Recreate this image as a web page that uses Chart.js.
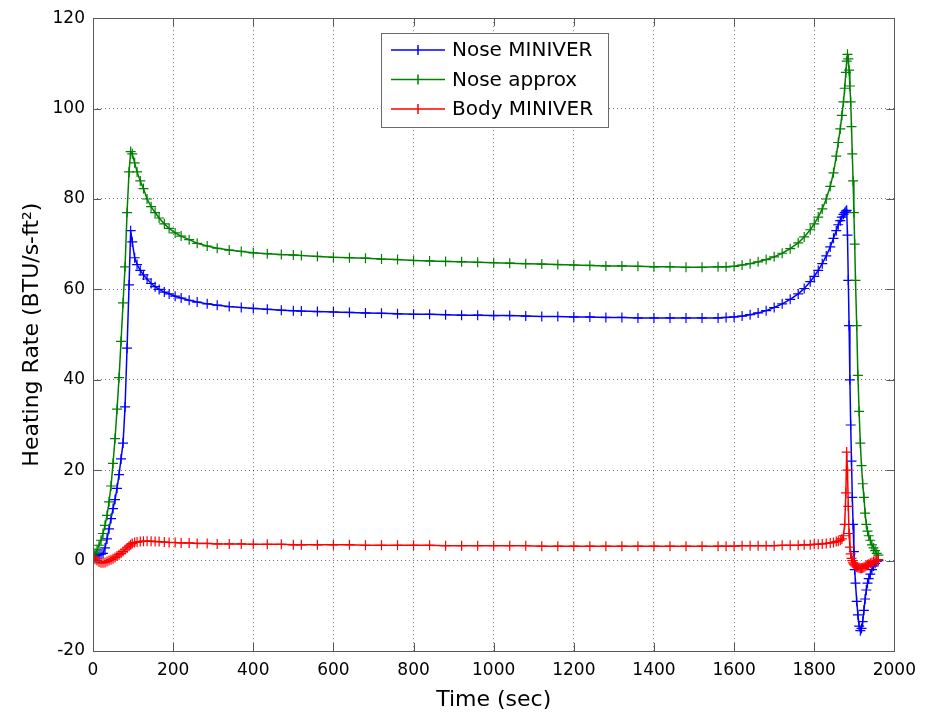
<!DOCTYPE html>
<html lang="en">
<head>
<meta charset="UTF-8">
<title>Heating Rate vs Time</title>
<script src="https://cdn.jsdelivr.net/npm/chart.js"></script>
<style>
  html, body { margin: 0; padding: 0; background: #fff; }
  canvas { display: block; }
</style>
</head>
<body>
<canvas id="chartCanvas" width="925" height="719"></canvas>
<script>
// time samples (sec), shared by all three series
const timeSec = [
  0, 5, 10, 15, 20, 25, 30, 35, 40, 45, 50, 55, 60, 65, 70, 75, 80, 85, 90, 94,
  98, 104, 110, 118, 126, 135, 145, 155, 165, 178, 190, 205, 220, 240, 260, 285, 310, 340, 370, 400,
  435, 470, 500, 520, 560, 600, 640, 680, 720, 760, 800, 840, 880, 920, 960, 1000, 1040, 1080, 1120, 1160,
  1200, 1240, 1280, 1320, 1360, 1400, 1440, 1480, 1520, 1560, 1580, 1600, 1620, 1640, 1660, 1680, 1700, 1720, 1740, 1760,
  1775, 1790, 1800, 1810, 1820, 1830, 1840, 1848, 1855, 1860, 1865, 1869, 1873, 1876, 1879, 1881, 1883, 1885, 1887, 1889,
  1891, 1893, 1895, 1897, 1899, 1901, 1903, 1906, 1909, 1912, 1915, 1918, 1921, 1924, 1927, 1930, 1933, 1936, 1940, 1944,
  1948, 1952, 1956, 1960
];

const noseMiniver = [
  1.0, 1.0, 1.2, 1.3, 1.4, 1.6, 2.8, 4.8, 7.0, 9.3, 11.5, 13.5, 16.0, 19.0, 22.5, 26.0, 34.0, 47.0, 61.0, 73.0,
  70.5, 67.0, 65.5, 64.2, 63.2, 62.3, 61.3, 60.6, 60.0, 59.4, 59.0, 58.5, 58.1, 57.6, 57.2, 56.8, 56.5, 56.2, 56.0, 55.8,
  55.6, 55.4, 55.3, 55.2, 55.1, 55.0, 54.9, 54.8, 54.7, 54.6, 54.5, 54.5, 54.4, 54.3, 54.3, 54.2, 54.2, 54.1, 54.0, 54.0,
  53.9, 53.9, 53.8, 53.8, 53.7, 53.7, 53.7, 53.7, 53.7, 53.7, 53.8, 53.9, 54.1, 54.4, 54.8, 55.3, 56.0, 56.8, 57.8, 59.0,
  60.2, 61.7, 62.9, 64.2, 65.7, 67.4, 69.4, 71.3, 73.0, 74.3, 75.2, 76.0, 76.6, 77.0, 77.3, 77.5, 72.0, 62.0, 52.0, 40.0,
  30.0, 22.0, 14.0, 8.0, 2.0, -2.0, -5.0, -9.0, -12.0, -14.5, -15.5, -15.0, -13.5, -11.0, -8.5, -6.5, -5.0, -4.0, -3.0, -2.0,
  -1.2, -0.6, -0.2, 0.0
];

const noseApprox = [
  1.0, 1.6, 2.4, 3.4, 4.5, 6.0, 7.8, 10.0, 13.0, 16.5, 21.5, 27.0, 33.5, 40.5, 48.5, 57.0, 65.0, 77.0, 86.0, 90.5,
  90.0, 88.0, 86.0, 84.0, 82.3, 80.0, 78.3, 77.0, 75.8, 74.5, 73.5, 72.5, 71.8, 71.0, 70.2, 69.6, 69.1, 68.7, 68.4, 68.1,
  67.9, 67.7, 67.6, 67.5, 67.3, 67.1, 67.0, 66.9, 66.7, 66.6, 66.4, 66.3, 66.2, 66.1, 66.0, 65.9, 65.8, 65.7, 65.6, 65.5,
  65.4, 65.3, 65.2, 65.2, 65.1, 65.0, 65.0, 64.9, 64.9, 65.0, 65.0, 65.1, 65.4, 65.7, 66.1, 66.6, 67.2, 68.0, 69.0, 70.3,
  71.6, 73.2, 74.5, 76.0, 77.8, 80.0, 82.8, 85.8, 89.5, 92.5, 95.5, 98.5, 101.5, 104.5, 108.0, 110.5, 112.0, 111.0, 108.5, 105.0,
  101.5, 96.0, 90.0, 84.0, 77.0, 70.0, 62.0, 52.0, 41.0, 33.0, 26.0, 21.0, 17.0, 14.0, 10.5, 8.0, 6.5, 5.5, 4.5, 3.5,
  2.8, 2.2, 1.6, 1.2
];

const bodyMiniver = [
  0.5, 0.3, 0.0, -0.3, -0.5, -0.5, -0.4, -0.2, 0.0, 0.2, 0.4, 0.7, 1.0, 1.3, 1.6, 2.0, 2.4, 2.8, 3.2, 3.5,
  3.8, 4.0, 4.1, 4.2, 4.3, 4.3, 4.3, 4.2, 4.2, 4.1, 4.0, 4.0, 3.9, 3.9, 3.8, 3.8, 3.7, 3.7, 3.7, 3.6,
  3.6, 3.6, 3.5, 3.5, 3.5, 3.5, 3.5, 3.4, 3.4, 3.4, 3.4, 3.4, 3.3, 3.3, 3.3, 3.3, 3.3, 3.3, 3.2, 3.2,
  3.2, 3.2, 3.2, 3.2, 3.2, 3.2, 3.2, 3.2, 3.2, 3.2, 3.2, 3.2, 3.3, 3.3, 3.3, 3.3, 3.3, 3.4, 3.4, 3.4,
  3.5, 3.5, 3.6, 3.6, 3.7, 3.8, 3.9, 4.0, 4.2, 4.3, 4.5, 4.8, 5.5, 8.0, 15.0, 24.0, 20.0, 12.0, 6.0, 3.0,
  1.5, 0.5, 0.0, -0.5, -0.8, -1.0, -1.2, -1.4, -1.5, -1.6, -1.7, -1.7, -1.6, -1.5, -1.3, -1.1, -0.9, -0.8, -0.6, -0.4,
  -0.2, -0.1, 0.0, 0.2
];

const seriesLabels = ["Nose MINIVER", "Nose approx", "Body MINIVER"];
const seriesColors = ["#0000ff", "#008000", "#ff0000"];
const seriesValues = [noseMiniver, noseApprox, bodyMiniver];

const FONT = "'DejaVu Sans', 'Liberation Sans', Arial, sans-serif";

// box round the plot with inward tick marks, plus the legend inside the plot
const matlabFrame = {
  id: "matlabFrame",
  afterDatasetsDraw(chart) {
    const { ctx, chartArea: a, scales } = chart;
    const x = scales.x, y = scales.y;
    ctx.save();
    ctx.strokeStyle = "#5a5a5a";
    ctx.lineWidth = 1;
    ctx.strokeRect(Math.round(a.left) + 0.5, Math.round(a.top) + 0.5,
      Math.round(a.right - a.left), Math.round(a.bottom - a.top));
    ctx.beginPath();
    x.ticks.forEach(t => {
      const px = Math.round(x.getPixelForValue(t.value)) + 0.5;
      ctx.moveTo(px, a.bottom); ctx.lineTo(px, a.bottom - 8);
      ctx.moveTo(px, a.top); ctx.lineTo(px, a.top + 8);
    });
    y.ticks.forEach(t => {
      const py = Math.round(y.getPixelForValue(t.value)) + 0.5;
      ctx.moveTo(a.left, py); ctx.lineTo(a.left + 8, py);
      ctx.moveTo(a.right, py); ctx.lineTo(a.right - 8, py);
    });
    ctx.stroke();

    // legend
    const lx = 381, ly = 33, lw = 227, lh = 94;
    ctx.fillStyle = "#fff";
    ctx.fillRect(lx, ly, lw, lh);
    ctx.strokeStyle = "#6a6a6a";
    ctx.strokeRect(lx + 0.5, ly + 0.5, lw, lh);
    ctx.font = "20px " + FONT;
    ctx.textBaseline = "middle";
    ctx.textAlign = "left";
    seriesLabels.forEach((label, i) => {
      const ry = ly + 17 + i * 29.5;
      ctx.strokeStyle = seriesColors[i];
      ctx.lineWidth = 1.5;
      ctx.beginPath();
      ctx.moveTo(lx + 10, ry); ctx.lineTo(lx + 64, ry);
      ctx.moveTo(lx + 37, ry - 5); ctx.lineTo(lx + 37, ry + 5);
      ctx.stroke();
      ctx.fillStyle = "#000";
      ctx.fillText(label, lx + 71, ry + 1);
    });
    ctx.restore();
  }
};

const ctx = document.getElementById("chartCanvas").getContext("2d");
new Chart(ctx, {
  type: "line",
  data: {
    datasets: seriesLabels.map((label, i) => ({
      label: label,
      data: timeSec.map((t, k) => ({ x: t, y: seriesValues[i][k] })),
      borderColor: seriesColors[i],
      backgroundColor: seriesColors[i],
      borderWidth: 1.5,
      pointStyle: "cross",
      pointRadius: 5,
      pointBorderWidth: 1.2,
      tension: 0,
      fill: false,
      order: 3 - i
    }))
  },
  options: {
    responsive: false,
    animation: false,
    events: [],
    layout: { padding: { top: 17, right: 28, left: 0, bottom: 0 } },
    plugins: {
      legend: { display: false },
      tooltip: { enabled: false }
    },
    scales: {
      x: {
        type: "linear",
        min: 0,
        max: 2000,
        afterFit(scale) { scale.height = 68; },
        ticks: {
          stepSize: 200, color: "#000", padding: 9, maxRotation: 0,
          font: { family: FONT, size: 17 },
          callback: v => String(v)
        },
        grid: { color: "rgba(0,0,0,0.55)", drawTicks: false, lineWidth: 1 },
        border: { display: false, dash: [1, 3] },
        title: { display: true, text: "Time (sec)", color: "#000", font: { family: FONT, size: 22 }, padding: { bottom: 6 } }
      },
      y: {
        type: "linear",
        min: -20,
        max: 120,
        afterFit(scale) { scale.width = 93; },
        ticks: {
          stepSize: 20, color: "#000", padding: 8,
          font: { family: FONT, size: 17 },
          callback: v => String(v)
        },
        grid: { color: "rgba(0,0,0,0.55)", drawTicks: false, lineWidth: 1 },
        border: { display: false, dash: [1, 3] },
        title: { display: true, text: "Heating Rate (BTU/s-ft²)", color: "#000", font: { family: FONT, size: 22 }, padding: { top: 19 } }
      }
    }
  },
  plugins: [matlabFrame]
});
</script>
</body>
</html>
